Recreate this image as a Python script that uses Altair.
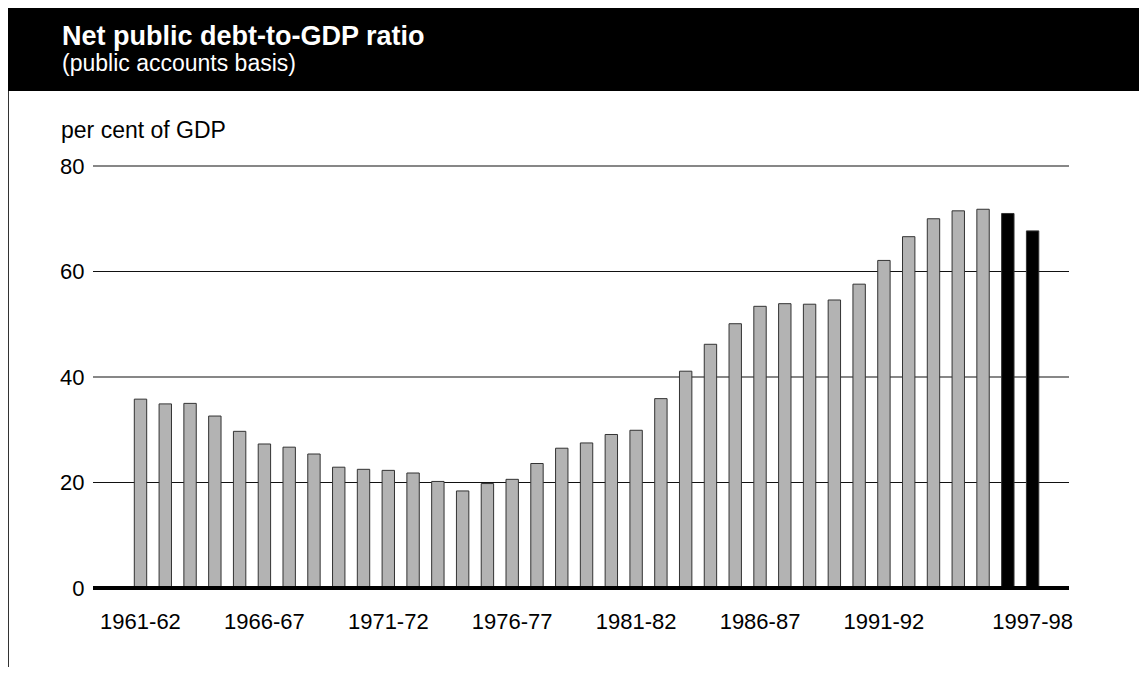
import altair as alt
import pandas as pd

years = ["1961-62", "1962-63", "1963-64", "1964-65", "1965-66", "1966-67", "1967-68",
         "1968-69", "1969-70", "1970-71", "1971-72", "1972-73", "1973-74", "1974-75",
         "1975-76", "1976-77", "1977-78", "1978-79", "1979-80", "1980-81", "1981-82",
         "1982-83", "1983-84", "1984-85", "1985-86", "1986-87", "1987-88", "1988-89",
         "1989-90", "1990-91", "1991-92", "1992-93", "1993-94", "1994-95", "1995-96",
         "1996-97", "1997-98"]
ratio = [35.8, 34.9, 35.0, 32.6, 29.7, 27.3, 26.7, 25.4, 22.9, 22.5,
         22.3, 21.8, 20.2, 18.4, 19.8, 20.6, 23.6, 26.5, 27.5, 29.1,
         29.9, 35.9, 41.1, 46.2, 50.1, 53.4, 53.9, 53.8, 54.6, 57.6,
         62.1, 66.6, 70.0, 71.5, 71.8, 71.0, 67.7]
kind = ["actual"] * 35 + ["forecast"] * 2
tick_labels = ["1961-62", "1966-67", "1971-72", "1976-77", "1981-82", "1986-87",
               "1991-92", "1997-98"]
y_ticks = [0, 20, 40, 60, 80]
grid_values = [20, 40, 60, 80]

df = pd.DataFrame({"year": years, "ratio": ratio, "kind": kind})
grid_df = pd.DataFrame({"g": grid_values})
base_df = pd.DataFrame({"zero": [0]})

W, H = 976, 422
PL, PT, PR, PB = 85, 158, 70, 79
FONT = "Liberation Sans, Arial, Helvetica, sans-serif"
NARROW = "Liberation Sans Narrow, Arial Narrow, Liberation Sans, sans-serif"

one = alt.Data(values=[{"a": 1}])
yscale = alt.Scale(domain=[0, 80], nice=False)
yaxis = alt.Axis(values=y_ticks, title=None, ticks=False, domain=False,
                 labelFontSize=22, labelFont=FONT, labelColor="#000000",
                 labelPadding=9, grid=False)

bars = alt.Chart(df).mark_bar(stroke="#333333", strokeWidth=1).encode(
    x=alt.X("year:N", sort=years,
            scale=alt.Scale(paddingInner=0.5, paddingOuter=0, range=[41.3, 945.8]),
            axis=alt.Axis(values=tick_labels, title=None, ticks=False, domain=False,
                          labelAngle=0, labelFontSize=22, labelFont=FONT,
                          labelColor="#000000", labelPadding=23, grid=False)),
    y=alt.Y("ratio:Q", scale=yscale, axis=yaxis),
    color=alt.Color("kind:N", scale=alt.Scale(domain=["actual", "forecast"],
                                              range=["#b3b3b3", "#000000"]),
                    legend=None),
)

grid = alt.Chart(grid_df).mark_rule(color="#111111", strokeWidth=1.2).encode(
    y=alt.Y("g:Q", scale=yscale, axis=yaxis), x=alt.value(0), x2=alt.value(W)
)
baseline = alt.Chart(base_df).mark_rule(color="#000000", strokeWidth=4).encode(
    y=alt.Y("zero:Q", scale=yscale, axis=yaxis), x=alt.value(0), x2=alt.value(W)
)

header = alt.Chart(one).mark_rect(color="#000000").encode(
    x=alt.value(-PL), x2=alt.value(W + PR), y=alt.value(-PT), y2=alt.value(-75)
)
border = alt.Chart(one).mark_rule(color="#333333", strokeWidth=1).encode(
    x=alt.value(-PL + 0.5), y=alt.value(-75), y2=alt.value(H + PB)
)
title = alt.Chart(one).mark_text(
    align="left", baseline="alphabetic", font=NARROW, fontSize=27,
    fontWeight="bold", color="#ffffff"
).encode(x=alt.value(-31), y=alt.value(-121), text=alt.value("Net public debt-to-GDP ratio"))
subtitle = alt.Chart(one).mark_text(
    align="left", baseline="alphabetic", font=NARROW, fontSize=23, color="#ffffff"
).encode(x=alt.value(-31), y=alt.value(-95), text=alt.value("(public accounts basis)"))
unit = alt.Chart(one).mark_text(
    align="left", baseline="alphabetic", font=FONT, fontSize=23, color="#000000"
).encode(x=alt.value(-32), y=alt.value(-28), text=alt.value("per cent of GDP"))

chart = alt.layer(header, border, title, subtitle, unit, grid, bars, baseline).properties(
    width=W, height=H,
    autosize=alt.AutoSizeParams(type="none"),
    padding={"left": PL, "top": PT, "right": PR, "bottom": PB},
    background="#ffffff",
).configure_view(strokeWidth=0, stroke="transparent")

chart.save("out.html", embed_options={"renderer": "svg", "actions": False})
